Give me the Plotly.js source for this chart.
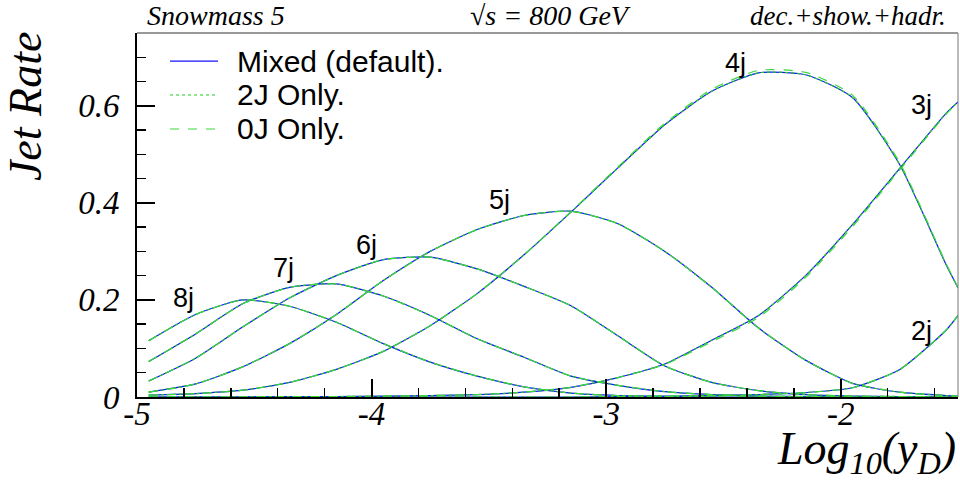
<!DOCTYPE html>
<html>
<head>
<meta charset="utf-8">
<script src="https://cdn.plot.ly/plotly-3.0.1.min.js"></script>
<style>
  html, body { margin: 0; padding: 0; background: white; }
  #jet-rates { width: 960px; height: 491px; }
</style>
</head>
<body>
<div id="jet-rates"></div>
<script>
// Log10(yD) bin centres
var xBins = [-4.95, -4.75, -4.55, -4.35, -4.15, -3.95, -3.75, -3.55, -3.35, -3.15,
    -2.95, -2.75, -2.55, -2.35, -2.15, -1.95, -1.75, -1.55, -1.5];

// Mixed (default) jet rates
var mixed8j = [0.116, 0.170, 0.200, 0.187, 0.154, 0.110, 0.072, 0.043, 0.021, 0.008,
    0.003, 0.001, 0, 0, 0, 0, 0, 0, 0];
var mixed7j = [0.073, 0.130, 0.192, 0.226, 0.233, 0.208, 0.168, 0.120, 0.082, 0.043,
    0.024, 0.011, 0.005, 0.002, 0.001, 0, 0, 0, 0];
var mixed6j = [0.033, 0.080, 0.144, 0.204, 0.250, 0.283, 0.288, 0.264, 0.228, 0.188,
    0.126, 0.064, 0.030, 0.013, 0.005, 0.002, 0.001, 0, 0];
var mixed5j = [0.010, 0.027, 0.062, 0.110, 0.170, 0.240, 0.300, 0.345, 0.374, 0.383,
    0.357, 0.300, 0.226, 0.142, 0.076, 0.028, 0.010, 0.003, 0.002];
var mixed4j = [0.004, 0.007, 0.014, 0.030, 0.057, 0.094, 0.147, 0.213, 0.293, 0.381,
    0.472, 0.561, 0.630, 0.668, 0.664, 0.617, 0.480, 0.272, 0.225];
var mixed3j = [0, 0, 0, 0.001, 0.001, 0.002, 0.003, 0.005, 0.010, 0.020,
    0.040, 0.068, 0.117, 0.168, 0.250, 0.355, 0.470, 0.585, 0.608];
var mixed2j = [0, 0, 0, 0, 0, 0, 0, 0, 0, 0,
    0.001, 0.002, 0.003, 0.005, 0.009, 0.019, 0.056, 0.138, 0.168];

// 2J Only sits on top of the default curves within a line width
var only2J8j = mixed8j, only2J7j = mixed7j, only2J6j = mixed6j, only2J5j = mixed5j;
var only2J4j = mixed4j, only2J3j = mixed3j, only2J2j = mixed2j;

// 0J Only: slightly off the default near the 4j peak and on the 3j rise
var only0J4j = [0.004, 0.007, 0.014, 0.030, 0.057, 0.094, 0.147, 0.213, 0.293, 0.382,
    0.474, 0.564, 0.634, 0.673, 0.669, 0.622, 0.484, 0.274, 0.226];
var only0J3j = [0, 0, 0, 0.001, 0.001, 0.002, 0.003, 0.005, 0.010, 0.020,
    0.040, 0.067, 0.114, 0.164, 0.246, 0.351, 0.467, 0.583, 0.607];
var only0J8j = mixed8j, only0J7j = mixed7j, only0J6j = mixed6j, only0J5j = mixed5j;
var only0J2j = mixed2j;

var jetNames = ["8j", "7j", "6j", "5j", "4j", "3j", "2j"];
var seriesNames = ["Mixed (default).", "2J Only.", "0J Only."];

var xTickVals = [-5, -4, -3, -2];
var xTickText = ["-5", "-4", "-3", "-2"];
var yTickVals = [0, 0.2, 0.4, 0.6];
var yTickText = ["0", "0.2", "0.4", "0.6"];

var serif = "Liberation Serif, Times New Roman, serif";
var sans = "Liberation Sans, Arial, sans-serif";

var seriesStyles = [
  {color: "rgb(20,20,255)", dash: "solid"},
  {color: "rgb(30,205,30)", dash: "dot"},
  {color: "rgb(60,215,60)", dash: "dash"}
];
var seriesRates = [
  [mixed8j, mixed7j, mixed6j, mixed5j, mixed4j, mixed3j, mixed2j],
  [only2J8j, only2J7j, only2J6j, only2J5j, only2J4j, only2J3j, only2J2j],
  [only0J8j, only0J7j, only0J6j, only0J5j, only0J4j, only0J3j, only0J2j]
];

var data = [];
for (var s = 0; s < seriesRates.length; s++) {
  for (var j = 0; j < jetNames.length; j++) {
    data.push({
      x: xBins,
      y: seriesRates[s][j],
      type: "scatter",
      mode: "lines",
      name: seriesNames[s] + " " + jetNames[j],
      line: {color: seriesStyles[s].color, dash: seriesStyles[s].dash,
          width: 1.2, shape: "spline", smoothing: 0.6}
    });
  }
}

// label spots next to each curve (data coords)
var labelSpots = [[-4.80, 0.205], [-4.376, 0.265], [-4.021, 0.313], [-3.455, 0.406],
    [-2.448, 0.688], [-1.655, 0.602], [-1.655, 0.135]];
var annotations = [];
for (var k = 0; k < jetNames.length; k++) {
  annotations.push({
    x: labelSpots[k][0], y: labelSpots[k][1], xref: "x", yref: "y",
    text: jetNames[k], showarrow: false, xanchor: "center", yanchor: "middle",
    font: {family: sans, size: 27, color: "black"}
  });
}

// hand-made legend, ROOT style
var legendY = [0.923, 0.8297, 0.7363];
var shapes = [
  {type: "line", xref: "paper", yref: "paper", x0: 0, x1: 1, y0: 1, y1: 1,
      line: {color: "#333", width: 1}},
  {type: "line", xref: "paper", yref: "paper", x0: 1, x1: 1, y0: 0, y1: 1,
      line: {color: "#777", width: 1}}
];
for (var m = 0; m < seriesNames.length; m++) {
  shapes.push({type: "line", xref: "paper", yref: "paper", x0: 0.0402, x1: 0.0987,
      y0: legendY[m], y1: legendY[m],
      line: {color: seriesStyles[m].color, dash: seriesStyles[m].dash, width: 1.2}});
  annotations.push({
    x: 0.1194, y: legendY[m], xref: "paper", yref: "paper", text: seriesNames[m],
    showarrow: false, xanchor: "left", yanchor: "middle",
    font: {family: sans, size: 30, color: "black"}
  });
}

// header texts
var headerFont = {family: serif, style: "italic", size: 28, color: "black"};
annotations.push({x: 0.0097, y: 1.0, xref: "paper", yref: "paper", text: "Snowmass 5",
    showarrow: false, xanchor: "left", yanchor: "bottom", font: headerFont});
annotations.push({x: 0.5042, y: 1.0, xref: "paper", yref: "paper",
    text: "√s = 800 GeV", showarrow: false, xanchor: "center", yanchor: "bottom",
    font: headerFont});
annotations.push({x: 0.988, y: 1.0, xref: "paper", yref: "paper",
    text: "dec.+show.+hadr.", showarrow: false, xanchor: "right", yanchor: "bottom",
    font: {family: serif, style: "italic", size: 27, color: "black"}});

// axis titles
annotations.push({x: -0.135, y: 0.797, xref: "paper", yref: "paper", text: "Jet Rate",
    textangle: -90, showarrow: false, xanchor: "center", yanchor: "middle",
    font: {family: serif, style: "italic", size: 46, color: "black"}});
annotations.push({x: 1.0, y: -0.066, xref: "paper", yref: "paper",
    text: "Log<sub>10</sub>(y<sub>D</sub>)", showarrow: false, xanchor: "right",
    yanchor: "top", font: {family: serif, style: "italic", size: 46, color: "black"}});

var tickFont = {family: serif, style: "italic", size: 33, color: "black"};

var layout = {
  width: 960,
  height: 491,
  margin: {l: 137, r: 2, t: 33, b: 94, pad: 0},
  paper_bgcolor: "white",
  plot_bgcolor: "white",
  showlegend: false,
  font: {family: serif, color: "black"},
  xaxis: {
    range: [-5, -1.5],
    tickmode: "array",
    tickvals: xTickVals,
    ticktext: xTickText,
    ticks: "inside",
    ticklen: 18,
    tickwidth: 2,
    tickcolor: "black",
    tickfont: tickFont,
    ticklabelstandoff: -14,
    showline: true,
    linewidth: 2,
    linecolor: "black",
    showgrid: false,
    zeroline: false,
    minor: {tickmode: "linear", tick0: -5, dtick: 0.2, ticks: "inside", ticklen: 9,
        tickwidth: 1.5, tickcolor: "black", showgrid: false}
  },
  yaxis: {
    range: [0, 0.75],
    tickmode: "array",
    tickvals: yTickVals,
    ticktext: yTickText,
    ticks: "inside",
    ticklen: 18,
    tickwidth: 2,
    tickcolor: "black",
    tickfont: tickFont,
    ticklabelstandoff: 9,
    showline: true,
    linewidth: 2,
    linecolor: "black",
    showgrid: false,
    zeroline: false,
    minor: {tickmode: "linear", tick0: 0, dtick: 0.05, ticks: "inside", ticklen: 9,
        tickwidth: 1.5, tickcolor: "black", showgrid: false}
  },
  shapes: shapes,
  annotations: annotations
};

Plotly.newPlot("jet-rates", data, layout, {staticPlot: true, displayModeBar: false});
</script>
</body>
</html>
